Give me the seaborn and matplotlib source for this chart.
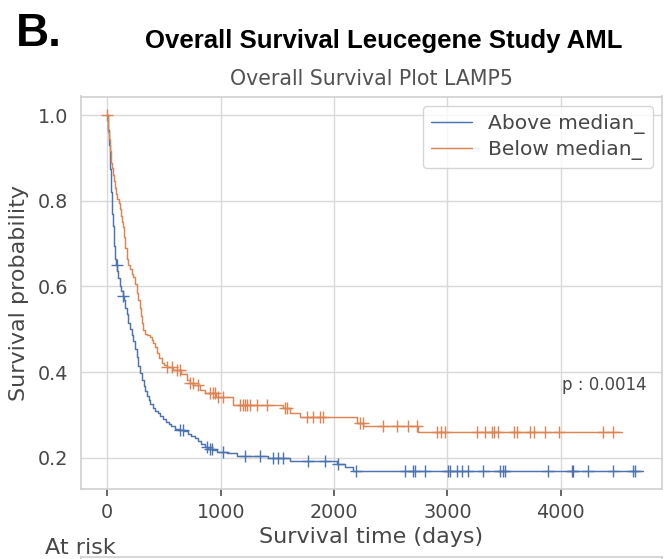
import numpy as np
import pandas as pd
import matplotlib
matplotlib.use("Agg")
import matplotlib.pyplot as plt
import seaborn as sns

# Kaplan-Meier step curves (days, survival probability)
above_t = [0, 4, 8, 12, 16, 20, 24, 28, 32, 36, 40, 45, 50, 55, 60, 65, 70, 78, 88, 98,
           110, 122, 135, 145, 158, 170, 185, 200, 215, 230, 245, 260, 274, 290, 305,
           320, 335, 350, 365, 380, 400, 420, 445, 465, 490, 515, 540, 565, 600, 640,
           680, 710, 740, 770, 800, 830, 860, 890, 930, 965, 1053, 1141, 1421, 1612,
           2024, 2097, 2170, 4723]
above_s = [1.0, 0.985, 0.965, 0.945, 0.93, 0.915, 0.90, 0.875, 0.85, 0.82, 0.80, 0.77,
           0.74, 0.715, 0.695, 0.68, 0.665, 0.65, 0.635, 0.62, 0.60, 0.59, 0.578, 0.568,
           0.55, 0.535, 0.515, 0.50, 0.487, 0.472, 0.455, 0.435, 0.415, 0.397, 0.382,
           0.368, 0.355, 0.345, 0.335, 0.325, 0.317, 0.31, 0.305, 0.298, 0.29, 0.284,
           0.279, 0.274, 0.268, 0.265, 0.262, 0.256, 0.25, 0.245, 0.238, 0.232, 0.226,
           0.221, 0.217, 0.214, 0.211, 0.204, 0.199, 0.193, 0.186, 0.178, 0.170, 0.170]
above_cens = [83, 141, 641, 671, 877, 906, 921, 1023, 1215, 1347, 1465, 1509, 1553,
              1773, 1921, 2038, 2191, 2626, 2700, 2715, 2803, 3009, 3023, 3082, 3127,
              3185, 3317, 3464, 3488, 3509, 3891, 4097, 4111, 4244, 4464, 4641, 4655]

below_t = [0, 5, 10, 15, 20, 25, 30, 35, 40, 50, 60, 70, 80, 90, 100, 110, 120, 130,
           141, 150, 160, 171, 185, 200, 215, 230, 245, 260, 274, 285, 295, 305, 318,
           335, 348, 377, 392, 405, 421, 440, 460, 480, 500, 524, 580, 650, 700, 730,
           760, 818, 862, 960, 1112, 1553, 1612, 1700, 2200, 2260, 2744, 4538]
below_s = [1.0, 0.98, 0.96, 0.945, 0.93, 0.915, 0.90, 0.888, 0.876, 0.86, 0.845, 0.83,
           0.815, 0.805, 0.795, 0.78, 0.765, 0.75, 0.738, 0.715, 0.69, 0.665, 0.65,
           0.64, 0.63, 0.622, 0.605, 0.585, 0.568, 0.55, 0.53, 0.515, 0.498, 0.49,
           0.486, 0.482, 0.475, 0.468, 0.459, 0.445, 0.432, 0.42, 0.416, 0.412, 0.405,
           0.395, 0.381, 0.375, 0.37, 0.358, 0.35, 0.342, 0.323, 0.316, 0.304, 0.296,
           0.28, 0.274, 0.26, 0.26]
below_cens = [0, 524, 568, 612, 641, 730, 759, 803, 906, 935, 950, 980, 1023, 1171, 1200,
              1215, 1230, 1259, 1318, 1406, 1567, 1583, 1759, 1817, 1876, 1906, 2229,
              2259, 2435, 2553, 2656, 2730, 2911, 2941, 2979, 3259, 3332, 3391, 3412,
              3450, 3588, 3612, 3729, 3765, 3862, 3988, 4371, 4464]

groups = ["Above median_", "Below median_"]
p_text = "p : 0.0014"


def step_value(times, surv, t):
    idx = np.searchsorted(times, t, side="right") - 1
    return np.asarray(surv)[idx]


curves = pd.concat([
    pd.DataFrame({"time": above_t, "surv": above_s, "group": groups[0]}),
    pd.DataFrame({"time": below_t, "surv": below_s, "group": groups[1]}),
])
cens = pd.concat([
    pd.DataFrame({"time": above_cens, "surv": step_value(above_t, above_s, above_cens),
                  "group": groups[0]}),
    pd.DataFrame({"time": below_cens, "surv": step_value(below_t, below_s, below_cens),
                  "group": groups[1]}),
])

sns.set_theme(style="whitegrid", palette="deep")
plt.rcParams["font.family"] = ["DejaVu Sans"]

W, H = 672, 559
fig = plt.figure(figsize=(W / 100, H / 100), dpi=100)
ax = fig.add_axes([81 / W, 1 - 489 / H, (661.7 - 81) / W, (489 - 96.5) / H])

pal = sns.color_palette("deep")[:2]
sns.lineplot(data=curves, x="time", y="surv", hue="group", palette=pal, ax=ax,
             drawstyle="steps-post", estimator=None, linewidth=1.05, sort=False)
sns.scatterplot(data=cens, x="time", y="surv", hue="group", palette=pal, ax=ax,
                marker="+", s=75, linewidth=1.0, legend=False)

ax.set_xlim(-232, 4891)
ax.set_ylim(0.127, 1.0433)
ax.set_xticks([0, 1000, 2000, 3000, 4000])
ax.set_yticks([0.2, 0.4, 0.6, 0.8, 1.0])
ax.tick_params(axis="both", labelsize=13.8, colors=".28")
ax.tick_params(axis="x", bottom=True, length=5, width=1.2, color=".3", pad=5)
for s in ax.spines.values():
    s.set_color(".82")
ax.grid(color=".85", linewidth=1.0)

ax.set_xlabel("Survival time (days)", fontsize=16, color=".28", labelpad=4)
ax.set_ylabel("Survival probability", fontsize=16, color=".28", labelpad=6)
ax.set_title("Overall Survival Plot LAMP5", fontsize=14.8, color=".32", pad=8)

handles, labels = ax.get_legend_handles_labels()
ax.legend(handles, labels, loc="upper right", fontsize=14.6, frameon=True,
          borderaxespad=0.45, handlelength=2.0, labelspacing=0.32,
          labelcolor=".28")

ax.text(4011, 0.37, p_text, fontsize=12, color=".28", va="center")

# at-risk table below (cut off in the original)
tab = fig.add_axes([81 / W, -0.2, (661.7 - 81) / W, 0.2 + 1 - 556.5 / H])
tab.set_xticks([])
tab.set_yticks([])
for s in tab.spines.values():
    s.set_color(".82")
fig.text(45 / W, 1 - 554 / H, "At risk", fontsize=16, color=".28", va="baseline")

fig.text(16 / W, 1 - 46 / H, "B.", fontsize=33, fontweight="bold",
         family="Liberation Sans", color="black")
fig.text(145 / W, 1 - 48 / H, "Overall Survival Leucegene Study AML", fontsize=18.5,
         fontweight="bold", family="Liberation Sans", color="black")

fig.savefig("out.png", dpi=100)
